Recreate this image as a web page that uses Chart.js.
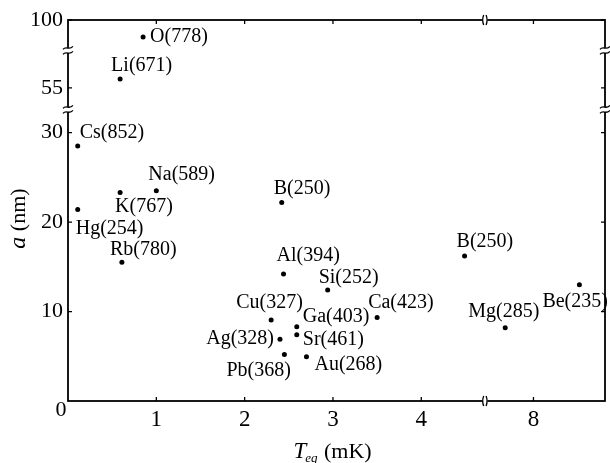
<!DOCTYPE html>
<html>
<head>
<meta charset="utf-8">
<script src="https://cdn.jsdelivr.net/npm/chart.js@4.4.1/dist/chart.umd.min.js"></script>
<style>
  html, body { margin: 0; padding: 0; background: #fff; }
  canvas { display: block; }
</style>
</head>
<body>
<canvas id="chart" width="610" height="463"></canvas>
<script>
// element name and the number printed in brackets
const elements = ['O', 'Li', 'Cs', 'Na', 'K', 'Hg', 'Rb', 'B', 'Al', 'Si', 'Cu', 'Ga', 'Sr', 'Ag', 'Pb', 'Au', 'Ca', 'B', 'Mg', 'Be'];
const kelvins = [778, 671, 852, 589, 767, 254, 780, 250, 394, 252, 327, 403, 461, 328, 368, 268, 423, 250, 285, 235];
// T_eq (mK)
const teq = [0.85, 0.59, 0.11, 1.0, 0.59, 0.11, 0.61, 2.42, 2.44, 2.94, 2.30, 2.59, 2.59, 2.40, 2.45, 2.70, 3.50, 4.49, 7.68, 8.52];
// a (nm)
const aNm = [98.1, 56.0, 28.5, 23.5, 23.3, 21.4, 15.5, 22.2, 14.2, 12.4, 9.05, 8.3, 7.4, 6.9, 5.2, 4.95, 9.35, 16.2, 8.2, 13.0];

const xTicks = [1, 2, 3, 4, 8];
const yTicks = [10, 20, 30, 55, 100];
const xMax = 8.81;
const yMax = 100;

// value ranges cut out of the axes
const xBreaks = [[4.72, 7.45]];
const yBreaks = [[32.6, 52.6], [59.2, 96.6]];

// where each label sits relative to its dot: dx, dy, align
const labelPlace = [
    [7, 0, 'left'], [-9, -13, 'left'], [2, -13, 'left'], [-8, -16, 'left'], [-5, 14, 'left'],
    [-2, 19, 'left'], [-12, -13, 'left'], [-8, -14, 'left'], [-7, -18, 'left'], [-9, -12, 'left'],
    [-35, -17, 'left'], [6, -10, 'left'], [6, 5, 'left'], [-6, -1, 'right'], [-58, 16, 'left'],
    [8, 8, 'left'], [-9, -15, 'left'], [-8, -14, 'left'], [-37, -16, 'left'], [-37, 17, 'left']
];

const serif = "'Liberation Serif', 'DejaVu Serif', serif";

function cut(v, breaks) {
    let s = v;
    breaks.forEach(([from, to]) => {
        if (v >= to) s -= (to - from);
    });
    return s;
}

const points = teq.map((t, i) => ({ x: cut(t, xBreaks), y: cut(aNm[i], yBreaks) }));

const figurePlugin = {
    id: 'figure',
    afterDraw(chart) {
        const { ctx, chartArea: ca } = chart;
        const xs = chart.scales.x;
        const ys = chart.scales.y;
        ctx.save();
        ctx.strokeStyle = '#000';
        ctx.fillStyle = '#000';
        ctx.lineWidth = 1.8;
        ctx.strokeRect(ca.left, ca.top, ca.right - ca.left, ca.bottom - ca.top);

        // inward tick marks on all four sides
        ctx.lineWidth = 1.3;
        xs.ticks.forEach(t => {
            const px = xs.getPixelForValue(t.value);
            ctx.beginPath();
            ctx.moveTo(px, ca.bottom); ctx.lineTo(px, ca.bottom - 4);
            ctx.moveTo(px, ca.top); ctx.lineTo(px, ca.top + 4);
            ctx.stroke();
        });
        ys.ticks.forEach(t => {
            const py = ys.getPixelForValue(t.value);
            ctx.beginPath();
            ctx.moveTo(ca.left, py); ctx.lineTo(ca.left + 4, py);
            ctx.moveTo(ca.right, py); ctx.lineTo(ca.right - 4, py);
            ctx.stroke();
        });

        // break marks
        yBreaks.forEach(([from]) => {
            const py = ys.getPixelForValue(cut(from, yBreaks));
            [ca.left, ca.right].forEach(x0 => {
                ctx.fillStyle = '#fff';
                ctx.fillRect(x0 - 2, py - 2.5, 4, 5);
                ctx.strokeStyle = '#000';
                [-2.5, 2.5].forEach(off => {
                    ctx.beginPath();
                    ctx.moveTo(x0 - 5, py + off + 1.5);
                    ctx.bezierCurveTo(x0 - 2, py + off - 2.5, x0 + 1, py + off + 3, x0 + 5, py + off - 1.5);
                    ctx.stroke();
                });
            });
        });
        xBreaks.forEach(([from]) => {
            const px = xs.getPixelForValue(cut(from, xBreaks));
            [ca.bottom, ca.top].forEach(y0 => {
                ctx.fillStyle = '#fff';
                ctx.fillRect(px - 2.5, y0 - 2, 5, 4);
                ctx.strokeStyle = '#000';
                [-2, 2].forEach(off => {
                    ctx.beginPath();
                    ctx.moveTo(px + off - off * 0.4, y0 - 5);
                    ctx.quadraticCurveTo(px + off + off * 0.6, y0, px + off - off * 0.4, y0 + 5);
                    ctx.stroke();
                });
            });
        });

        // point labels
        ctx.fillStyle = '#000';
        ctx.font = '20px ' + serif;
        ctx.textBaseline = 'middle';
        const meta = chart.getDatasetMeta(0);
        meta.data.forEach((el, i) => {
            const [dx, dy, align] = labelPlace[i];
            ctx.textAlign = align;
            ctx.fillText(elements[i] + '(' + kelvins[i] + ')', el.x + dx, el.y + dy);
        });

        // shared origin label
        ctx.font = '22px ' + serif;
        ctx.textAlign = 'center';
        ctx.fillText('0', xs.getPixelForValue(0) - 7, ys.getPixelForValue(0) + 9);

        // x title: T_eq (mK)
        ctx.textBaseline = 'alphabetic';
        ctx.textAlign = 'left';
        const fT = 'italic 23px ' + serif;
        const fSub = 'italic 13px ' + serif;
        const fRest = '22px ' + serif;
        ctx.font = fT; const wT = ctx.measureText('T').width;
        ctx.font = fSub; const wSub = ctx.measureText('eq').width;
        ctx.font = fRest; const wRest = ctx.measureText(' (mK)').width;
        let tx = (ca.left + ca.right) / 2 - 4 - (wT + wSub + wRest) / 2;
        const ty = ca.bottom + 57;
        ctx.font = fT; ctx.fillText('T', tx, ty); tx += wT;
        ctx.font = fSub; ctx.fillText('eq', tx - 1, ty + 4); tx += wSub;
        ctx.font = fRest; ctx.fillText(' (mK)', tx, ty);

        // y title: a (nm)
        ctx.translate(25, (ca.top + ca.bottom) / 2 + 8);
        ctx.rotate(-Math.PI / 2);
        const fA = 'italic 24px ' + serif;
        const fNm = '22px ' + serif;
        ctx.font = fA; const wA = ctx.measureText('a').width;
        ctx.font = fNm; const wNm = ctx.measureText(' (nm)').width;
        let ax = -(wA + wNm) / 2;
        ctx.font = fA; ctx.fillText('a', ax, 0); ax += wA;
        ctx.font = fNm; ctx.fillText(' (nm)', ax, 0);

        ctx.restore();
    }
};

new Chart(document.getElementById('chart'), {
    type: 'scatter',
    data: {
        datasets: [{
            data: points,
            pointRadius: 2.5,
            pointHoverRadius: 2.5,
            pointBackgroundColor: '#000',
            pointBorderWidth: 0
        }]
    },
    options: {
        responsive: false,
        animation: false,
        events: [],
        layout: { padding: { top: 20, right: 5, left: 0, bottom: 0 } },
        plugins: { legend: { display: false }, tooltip: { enabled: false } },
        scales: {
            x: {
                type: 'linear',
                min: 0,
                max: cut(xMax, xBreaks),
                grid: { display: false, drawTicks: false },
                border: { display: false },
                afterBuildTicks: s => { s.ticks = xTicks.map(t => ({ value: cut(t, xBreaks) })); },
                afterFit: s => { s.height = 62; },
                ticks: {
                    color: '#000',
                    padding: 5,
                    maxRotation: 0,
                    font: { family: serif, size: 23 },
                    callback: (value, index) => xTicks[index]
                }
            },
            y: {
                type: 'linear',
                min: 0,
                max: cut(yMax, yBreaks),
                grid: { display: false, drawTicks: false },
                border: { display: false },
                afterBuildTicks: s => { s.ticks = yTicks.map(t => ({ value: cut(t, yBreaks) })); },
                afterFit: s => { s.width = 68; },
                ticks: {
                    color: '#000',
                    padding: 5,
                    font: { family: serif, size: 22 },
                    callback: (value, index) => yTicks[index]
                }
            }
        }
    },
    plugins: [figurePlugin]
});
</script>
</body>
</html>
